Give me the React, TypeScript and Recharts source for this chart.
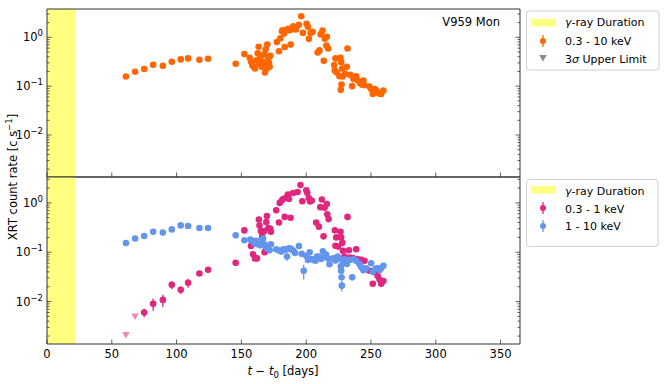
import React from "react";
import { ScatterChart, Scatter, XAxis, YAxis, ReferenceArea, ErrorBar } from "recharts";

const FONT = "'DejaVu Sans', Verdana, sans-serif";
const AXIS = "#333";
const ORANGE = "#ff6600";
const PINK = "#e0267d";
const PINK_UL = "#ef8ab8";
const BLUE = "#6495ed";
const YELLOW = "#ffff80";

// x axis (days since t0) and log y axis ticks
const xTicks = [0, 50, 100, 150, 200, 250, 300, 350];
const xDomain = [0, 365];
const yMajor = [0.01, 0.1, 1];
const yTicks = [
  0.002, 0.003, 0.004, 0.005, 0.006, 0.007, 0.008, 0.009, 0.01,
  0.02, 0.03, 0.04, 0.05, 0.06, 0.07, 0.08, 0.09, 0.1,
  0.2, 0.3, 0.4, 0.5, 0.6, 0.7, 0.8, 0.9, 1, 2, 3,
];
const topDomain = [0.00138, 3.8];
const bottomDomain = [0.00138, 3.35];

// gamma-ray duration band
const gammaStart = 0;
const gammaEnd = 22;

// 0.3 - 10 keV
const totalT = [
  60.9, 68, 75, 81.9, 89.4, 96.3, 103.2, 108.9, 117.6, 124.3, 145.6, 152.3,
  156.4, 157.4, 158.4, 159.5, 160.5, 161.5, 162.6, 163.3, 163.6, 164.6, 165.6, 166.6,
  167.7, 168.2, 168.7, 169.2, 169.7, 170.0, 170.8, 171.3, 171.8, 172.3,
  177.4, 179, 180, 181.3, 181.8, 183, 183.4, 184.7, 186, 186.7, 188, 188.5,
  190, 192, 194.4, 196.2, 197.5, 200.3, 201.3, 202.1, 203.4, 204.9,
  208.8, 210.3, 211.1, 212.6, 213.6, 214.4, 215.6, 216, 217,
  221.6, 222.1, 222.6, 223.6, 225.7, 226.5, 227, 226.7, 227.3, 227.8, 228.3,
  230, 231.4, 231.9, 234, 235.5, 236.5, 238.6, 239.9, 241.7, 243.2, 244.2, 244.8,
  248.8, 250.1, 251.4, 253, 254.2, 256.3, 257.8, 259.6,
];
const totalRate = [
  0.158, 0.197, 0.224, 0.275, 0.262, 0.316, 0.353, 0.37, 0.347, 0.365, 0.287, 0.455,
  0.38, 0.32, 0.27, 0.25, 0.23, 0.34, 0.47, 0.64, 0.29, 0.38, 0.25, 0.32,
  0.45, 0.19, 0.57, 0.27, 0.23, 0.71, 0.38, 0.3, 0.25, 0.42,
  0.8, 0.52, 0.95, 1.33, 1.4, 1.2, 0.63, 1.39, 1.5, 1.39, 0.71, 1.45,
  1.68, 1.45, 1.8, 2.7, 1.23, 1.9, 1.64, 0.93, 1.23, 1.29,
  0.49, 0.54, 1.15, 1.37, 0.33, 0.94, 0.68, 1.03, 0.59,
  0.27, 0.21, 0.37, 0.19, 0.16, 0.38, 0.31, 0.084, 0.108, 0.23, 0.158,
  0.18, 0.25, 0.59, 0.17, 0.1, 0.14, 0.16, 0.13, 0.115, 0.107, 0.13, 0.105,
  0.098, 0.087, 0.069, 0.087, 0.081, 0.071, 0.069, 0.081,
];

// 0.3 - 1 keV
const softT = [
  75, 81.9, 89.4, 96.3, 103.2, 108.9, 117.6, 124.3, 145.6, 152.3,
  157.4, 159, 160.5, 162, 163.5, 164, 165, 166, 167.7, 167.9, 168.5, 169.2, 169.7, 170.8, 172.3, 172.8,
  176.9, 179, 179.6, 181.3, 182.3, 183.4, 184.7, 186, 186.7, 188, 189.9, 193.4, 195.6, 197,
  200.1, 200.8, 202, 203, 204.3, 207.7, 209.8, 210.9, 212.1, 213.4, 214.2, 215.9, 216.3, 217.3,
  222.1, 222.6, 223.2, 224.6, 226.5, 227, 227.9, 228.3, 229.6, 231.9, 233, 234, 236.5, 238.6,
  239.9, 242.4, 245, 248.8, 251.4, 253.3, 255.2, 256.6, 257.9, 259.6,
];
const softRate = [
  0.006, 0.009, 0.0108, 0.0218, 0.0173, 0.024, 0.037, 0.044, 0.061, 0.277,
  0.134, 0.091, 0.075, 0.075, 0.46, 0.35, 0.27, 0.21, 0.27, 0.1, 0.105, 0.41, 0.54, 0.31, 0.3, 0.26,
  0.71, 0.4, 1.0, 1.13, 1.2, 0.52, 1.28, 1.47, 1.2, 0.5, 1.59, 1.66, 2.3, 1.08,
  1.8, 1.6, 1.26, 1.07, 1.12, 0.4, 0.33, 0.82, 1.17, 0.21, 0.8, 0.95, 0.59, 0.47,
  0.28, 0.135, 0.2, 0.13, 0.26, 0.2, 0.155, 0.107, 0.082, 0.52, 0.11, 0.078, 0.075, 0.115,
  0.072, 0.07, 0.067, 0.042, 0.023, 0.039, 0.033, 0.028, 0.023, 0.026,
];
const softErrT = [75, 81.9, 89.4, 96.3, 103.2, 108.9];
const softErrV = [0.0012, 0.0025, 0.003, 0.004, 0.003, 0.005];

// 0.3 - 1 keV upper limits
const ulT = [60.9, 68];
const ulRate = [0.0021, 0.005];

// 1 - 10 keV
const hardT = [
  60.9, 68, 75, 81.9, 89.4, 96.3, 103.2, 108.9, 117.6, 124.3, 145.6, 152.3,
  156.9, 158.4, 159.5, 160.5, 161.6, 162.6, 163.6, 164.6, 165.6, 166.7, 167.7, 168.7, 169.7, 170.8, 171.8, 172.8,
  176.9, 179, 180.8, 182.3, 184.2, 185.2, 186, 187.3, 188.5, 189.9, 191.4, 194.4, 196.5, 198.1,
  200.1, 201.4, 202.7, 203.9, 205.7, 207.2, 208.3, 209.8, 211.6, 212.9, 214.1, 215.3, 216.9, 218,
  221, 222.6, 224.3, 225.6, 226.7, 227, 227.3, 227.5, 228.3, 229.6, 231.4, 233.5, 235.5, 236.5,
  238.6, 241.1, 242.4, 244.2, 246.2, 250.1, 251.4, 253.5, 255.2, 256.6, 257.9, 259.6,
];
const hardRate = [
  0.154, 0.19, 0.213, 0.26, 0.25, 0.29, 0.35, 0.34, 0.31, 0.31, 0.22, 0.175,
  0.18, 0.17, 0.16, 0.15, 0.17, 0.145, 0.16, 0.138, 0.17, 0.19, 0.145, 0.13, 0.12, 0.135, 0.11, 0.145,
  0.115, 0.108, 0.103, 0.115, 0.112, 0.082, 0.118, 0.12, 0.115, 0.108, 0.097, 0.134, 0.093, 0.042,
  0.085, 0.07, 0.1, 0.073, 0.07, 0.067, 0.082, 0.082, 0.073, 0.105, 0.082, 0.09, 0.075, 0.057,
  0.075, 0.068, 0.082, 0.075, 0.052, 0.042, 0.031, 0.021, 0.06, 0.072, 0.058, 0.07, 0.031, 0.072,
  0.067, 0.058, 0.05, 0.043, 0.047, 0.06, 0.04, 0.046, 0.048, 0.043, 0.048, 0.053,
];
const hardErrT = [185.2, 198.1, 227.5, 235.5];
const hardErrV = [0.015, 0.014, 0.005, 0.004];

const build = (t: number[], v: number[], errT: number[] = [], errV: number[] = []) =>
  t.map((d, i) => {
    const k = errT.indexOf(d);
    return { t: d, rate: v[i], err: k >= 0 ? errV[k] : 0 };
  });

const totalData = build(totalT, totalRate);
const softData = build(softT, softRate, softErrT, softErrV);
const hardData = build(hardT, hardRate, hardErrT, hardErrV);
const ulData = build(ulT, ulRate);

const xTick = (dir: number, label: boolean) => (p: any) => (
  <g>
    <line x1={p.x} x2={p.x} y1={p.y} y2={p.y + dir * 4.5} stroke={AXIS} strokeWidth={0.8} />
    {label && (
      <text x={p.x} y={p.y + 13.5} textAnchor="middle" fontSize={11.5} fontFamily={FONT} fill="#000">
        {p.payload.value}
      </text>
    )}
  </g>
);

const yTick = (side: "left" | "right") => (p: any) => {
  const v = p.payload.value;
  const major = yMajor.includes(v);
  const len = major ? 4.5 : 2.5;
  const dir = side === "left" ? 1 : -1;
  const exp = Math.round(Math.log10(v));
  return (
    <g>
      <line x1={p.x} x2={p.x + dir * len} y1={p.y} y2={p.y} stroke={AXIS} strokeWidth={0.8} />
      {side === "left" && major && (
        <text x={p.x - 4} y={p.y + 4} textAnchor="end" fontSize={11.5} fontFamily={FONT} fill="#000">
          10
          <tspan dy={-5} fontSize={8.5}>{exp < 0 ? `\u2212${-exp}` : `${exp}`}</tspan>
        </text>
      )}
    </g>
  );
};

const dot = (color: string) => (p: any) => <circle cx={p.cx} cy={p.cy} r={3.3} fill={color} />;
const downTri = (color: string) => (p: any) => (
  <polygon
    points={`${p.cx - 3.8},${p.cy - 3} ${p.cx + 3.8},${p.cy - 3} ${p.cx},${p.cy + 3.6}`}
    fill={color}
  />
);

function Panel({ domain, bottom, children }: { domain: number[]; bottom: boolean; children: React.ReactNode }) {
  return (
    <ScatterChart
      width={665}
      height={bottom ? 208 : 178}
      margin={bottom ? { top: 0, right: 0, bottom: 0, left: 0 } : { top: 8, right: 0, bottom: 0, left: 0 }}
    >
      <XAxis
        xAxisId="b"
        type="number"
        dataKey="t"
        domain={xDomain}
        ticks={xTicks}
        allowDataOverflow
        orientation="bottom"
        height={bottom ? 40 : 1}
        tickLine={false}
        tickSize={0}
        tickMargin={0}
        tick={xTick(-1, bottom)}
        axisLine={{ stroke: AXIS, strokeWidth: 1 }}
        interval={0}
      />
      <XAxis
        xAxisId="t"
        type="number"
        domain={xDomain}
        ticks={xTicks}
        allowDataOverflow
        orientation="top"
        height={1}
        tickLine={false}
        tickSize={0}
        tickMargin={0}
        tick={bottom ? false : xTick(1, false)}
        axisLine={{ stroke: AXIS, strokeWidth: 1 }}
        interval={0}
      />
      <YAxis
        yAxisId="l"
        type="number"
        dataKey="rate"
        scale="log"
        domain={domain}
        ticks={yTicks}
        allowDataOverflow
        width={47}
        tickLine={false}
        tickSize={0}
        tickMargin={0}
        tick={yTick("left")}
        axisLine={{ stroke: AXIS, strokeWidth: 1 }}
        interval={0}
      />
      <YAxis
        yAxisId="r"
        type="number"
        orientation="right"
        scale="log"
        domain={domain}
        ticks={yTicks}
        allowDataOverflow
        width={145}
        tickLine={false}
        tickSize={0}
        tickMargin={0}
        tick={yTick("right")}
        axisLine={{ stroke: AXIS, strokeWidth: 1 }}
        interval={0}
      />
      <ReferenceArea
        xAxisId="b"
        yAxisId="l"
        x1={gammaStart}
        x2={gammaEnd}
        fill={YELLOW}
        fillOpacity={1}
        stroke="none"
      />
      {children}
    </ScatterChart>
  );
}

export default function App() {
  return (
    <div style={{ position: "absolute", left: 0, top: 0, width: 665, height: 384, background: "#fff" }}>
      <div style={{ position: "absolute", left: 0, top: 0 }}>
        <Panel domain={topDomain} bottom={false}>
          <Scatter
            data={totalData}
            xAxisId="b"
            yAxisId="l"
            dataKey="rate"
            fill={ORANGE}
            shape={dot(ORANGE)}
            isAnimationActive={false}
          />
        </Panel>
      </div>
      <div style={{ position: "absolute", left: 0, top: 176 }}>
        <Panel domain={bottomDomain} bottom>
          <Scatter data={ulData} xAxisId="b" yAxisId="l" dataKey="rate" fill={PINK_UL} shape={downTri(PINK_UL)} isAnimationActive={false} />
          <Scatter data={softData} xAxisId="b" yAxisId="l" dataKey="rate" fill={PINK} shape={dot(PINK)} isAnimationActive={false}>
            <ErrorBar dataKey="err" direction="y" width={0} stroke={PINK} strokeWidth={1.3} />
          </Scatter>
          <Scatter data={hardData} xAxisId="b" yAxisId="l" dataKey="rate" fill={BLUE} shape={dot(BLUE)} isAnimationActive={false}>
            <ErrorBar dataKey="err" direction="y" width={0} stroke={BLUE} strokeWidth={1.3} />
          </Scatter>
        </Panel>
      </div>
      <svg
        width={665}
        height={384}
        style={{ position: "absolute", left: 0, top: 0, pointerEvents: "none" }}
        fontFamily={FONT}
      >
        <text x={500} y={26} textAnchor="end" fontSize={11.5} fill="#000">V959 Mon</text>

        <text
          x={0}
          y={0}
          transform="translate(17,177) rotate(-90)"
          textAnchor="middle"
          fontSize={11.5}
          fill="#000"
        >
          XRT count rate [c s<tspan dy={-5} fontSize={8.5}>{"\u22121"}</tspan>
          <tspan dy={5}>]</tspan>
        </text>

        <text x={283} y={375} textAnchor="middle" fontSize={11.5} fill="#000">
          <tspan fontStyle="italic">t</tspan>
          {" \u2212 "}
          <tspan fontStyle="italic">t</tspan>
          <tspan dy={3} fontSize={8.5}>0</tspan>
          <tspan dy={-3}> [days]</tspan>
        </text>

        {/* legend, top panel */}
        <rect x={526.5} y={11} width={132.5} height={59} rx={3} fill="#fff" fillOpacity={0.8} stroke="#d0d0d0" />
        <rect x={531} y={19} width={25} height={7.5} fill={YELLOW} />
        <text x={565} y={26} fontSize={11} fill="#000">
          <tspan fontStyle="italic">γ</tspan>-ray Duration
        </text>
        <line x1={543} x2={543} y1={35} y2={47} stroke={ORANGE} strokeWidth={1.3} />
        <circle cx={543} cy={41} r={3} fill={ORANGE} />
        <text x={565} y={45} fontSize={11} fill="#000">0.3 - 10 keV</text>
        <polygon points="539.2,55 546.8,55 543,61.5" fill="#8c8c8c" />
        <text x={565} y={62.5} fontSize={11} fill="#000">
          3<tspan fontStyle="italic">σ</tspan> Upper Limit
        </text>

        {/* legend, bottom panel */}
        <rect x={526.5} y={179.5} width={131.5} height={67} rx={3} fill="#fff" fillOpacity={0.8} stroke="#d0d0d0" />
        <rect x={531} y={186} width={25} height={7.5} fill={YELLOW} />
        <text x={565} y={195} fontSize={11} fill="#000">
          <tspan fontStyle="italic">γ</tspan>-ray Duration
        </text>
        <line x1={543} x2={543} y1={202} y2={214} stroke={PINK} strokeWidth={1.3} />
        <circle cx={543} cy={208} r={3} fill={PINK} />
        <text x={565} y={212.5} fontSize={11} fill="#000">0.3 - 1 keV</text>
        <line x1={543} x2={543} y1={220} y2={232} stroke={BLUE} strokeWidth={1.3} />
        <circle cx={543} cy={226} r={3} fill={BLUE} />
        <text x={565} y={230} fontSize={11} fill="#000">1 - 10 keV</text>
      </svg>
    </div>
  );
}
